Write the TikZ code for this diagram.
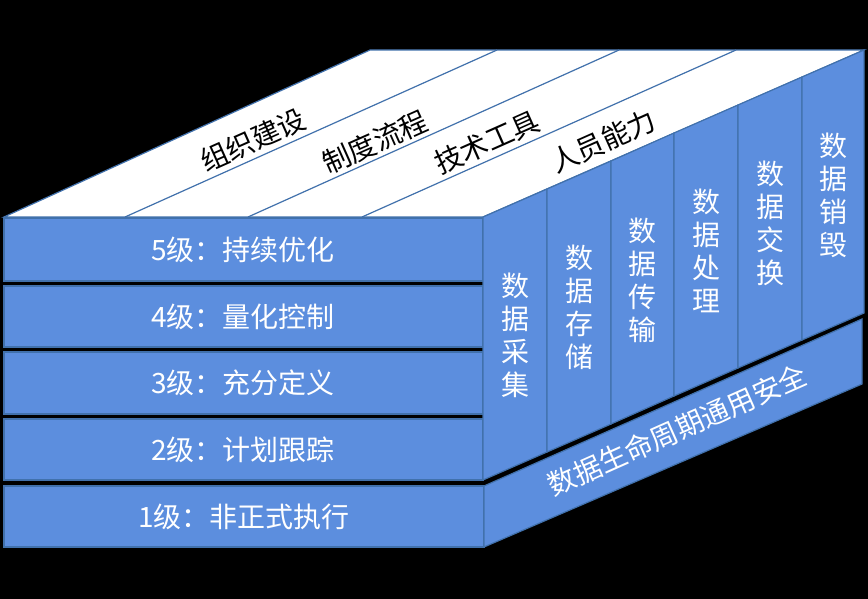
\documentclass[tikz,border=0pt]{standalone}
\usepackage{fontspec}
\newfontfamily\cjk{Noto Sans CJK SC}
\usepackage{tikz}
\definecolor{cellblue}{RGB}{92,142,222}
\definecolor{edgeblue}{RGB}{65,113,172}

\begin{document}
\begin{tikzpicture}[x=1pt, y=-1pt,
  cell/.style={fill=cellblue, draw=edgeblue, line width=1.2pt},
  lbl/.style={font=\cjk\fontsize{28}{33}\selectfont, text=white, inner sep=0pt},
  vlbl/.style={lbl, align=center},
  toplbl/.style={font=\cjk\fontsize{28}{33}\selectfont, text=black, rotate=24, inner sep=0pt}]
% Background
\fill[black] (0,0) rectangle (868,599);

% Top face: four dimensions (white strips)
\fill[white,draw=edgeblue,line width=1.2pt] (4,217)--(483,217)--(864,50)--(370,50)--cycle;
\draw[edgeblue,line width=1.2pt] (125,217)--(497,50);
\draw[edgeblue,line width=1.2pt] (248,217)--(619,50);
\draw[edgeblue,line width=1.2pt] (362,217)--(736,50);
\node[toplbl] (org) at (253,140) {组织建设};
\node[toplbl] (rule) at (375,142) {制度流程};
\node[toplbl] (tool) at (487,142) {技术工具};
\node[toplbl] (staff) at (603,141) {人员能力};

% Front face: maturity levels
\fill[cell] (4,218) rectangle (483,281);
\fill[cell] (4,286) rectangle (483,347);
\fill[cell] (4,352) rectangle (483,414);
\fill[cell] (4,419) rectangle (483,480);
\fill[cell] (4,486) rectangle (484,547);
\node[lbl] (lv5) at (243,250) {5级：持续优化};
\node[lbl] (lv4) at (243,317) {4级：量化控制};
\node[lbl] (lv3) at (243,383) {3级：充分定义};
\node[lbl] (lv2) at (243,450) {2级：计划跟踪};
\node[lbl] (lv1) at (244,517) {1级：非正式执行};

% Right face: lifecycle stages
\fill[cell] (483,217)--(547,189)--(547,452)--(483,480)--cycle;
\fill[cell] (547,189)--(611,161)--(611,424)--(547,452)--cycle;
\fill[cell] (611,161)--(674,133)--(674,396)--(611,424)--cycle;
\fill[cell] (674,133)--(738,105)--(738,368)--(674,396)--cycle;
\fill[cell] (738,105)--(802,77)--(802,340)--(738,368)--cycle;
\fill[cell] (802,77)--(864,50)--(864,313)--(802,340)--cycle;
\node[vlbl] (collect) at (515,335) {数\\据\\采\\集};
\node[vlbl] (store) at (579,307) {数\\据\\存\\储};
\node[vlbl] (trans) at (642,280) {数\\据\\传\\输};
\node[vlbl] (proc) at (706,251) {数\\据\\处\\理};
\node[vlbl] (swap) at (770,223) {数\\据\\交\\换};
\node[vlbl] (destroy) at (833,195) {数\\据\\销\\毁};

% Bottom band: general security
\fill[cell] (484,486)--(862,319)--(862,384)--(484,547)--cycle;
\node[lbl, rotate=24] (secure) at (677,430) {数据生命周期通用安全};
\end{tikzpicture}
\end{document}
